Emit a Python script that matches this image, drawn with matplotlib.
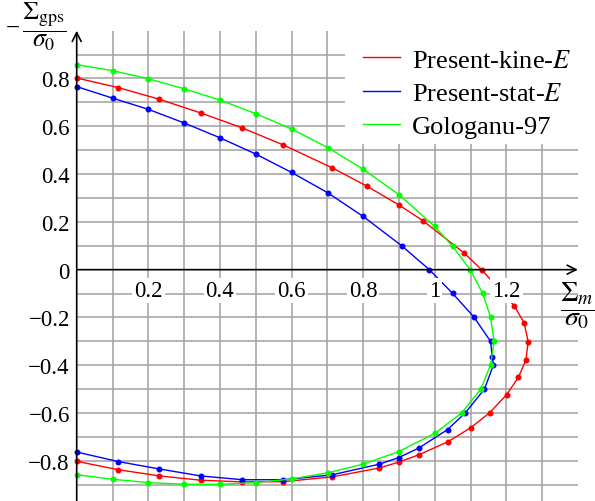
import matplotlib
matplotlib.use("Agg")
import matplotlib.pyplot as plt
from matplotlib.lines import Line2D
from matplotlib.patches import Rectangle
import numpy as np

plt.rcParams['font.family'] = ['Liberation Serif', 'DejaVu Serif']
plt.rcParams['mathtext.fontset'] = 'stix'

# Present-kine-E
kine_x = [0, 0.116, 0.231, 0.346, 0.463, 0.577, 0.714, 0.810, 0.900, 0.967, 1.082, 1.131,
          1.222, 1.250, 1.261, 1.255, 1.234, 1.201, 1.154, 1.101, 1.037, 0.955, 0.900, 0.845,
          0.714, 0.577, 0.463, 0.346, 0.231, 0.116, 0]
kine_y = [0.802, 0.762, 0.713, 0.656, 0.593, 0.522, 0.426, 0.350, 0.271, 0.205, 0.070, 0.0,
          -0.151, -0.223, -0.301, -0.377, -0.450, -0.523, -0.598, -0.661, -0.720, -0.775, -0.805, -0.830,
          -0.867, -0.887, -0.888, -0.881, -0.863, -0.837, -0.802]

# Present-stat-E
stat_x = [0, 0.1, 0.2, 0.3, 0.4, 0.5, 0.6, 0.701, 0.8, 0.908, 0.985, 1.050, 1.110, 1.156,
          1.161, 1.164, 1.139, 1.085, 1.036, 0.956, 0.900, 0.845, 0.712, 0.577, 0.463, 0.346,
          0.231, 0.116, 0]
stat_y = [0.766, 0.718, 0.671, 0.614, 0.552, 0.484, 0.407, 0.322, 0.223, 0.100, 0.0, -0.099,
          -0.199, -0.300, -0.367, -0.399, -0.500, -0.600, -0.669, -0.746, -0.786, -0.814, -0.859,
          -0.879, -0.879, -0.863, -0.834, -0.803, -0.763]

# Gologanu-97
gol_x = [0, 0.1, 0.2, 0.3, 0.4, 0.5, 0.6, 0.701, 0.8, 0.9, 1.0, 1.050, 1.099, 1.134, 1.156,
         1.166, 1.156, 1.129, 1.075, 1.0, 0.9, 0.8, 0.701, 0.6, 0.5, 0.4, 0.3, 0.2, 0.1, 0]
gol_y = [0.858, 0.833, 0.799, 0.757, 0.710, 0.653, 0.589, 0.511, 0.421, 0.314, 0.181, 0.098,
         0.0, -0.099, -0.199, -0.300, -0.399, -0.499, -0.600, -0.685, -0.761, -0.814, -0.850,
         -0.876, -0.891, -0.898, -0.898, -0.891, -0.877, -0.858]

labels = ['Present-kine-$E$', 'Present-stat-$E$', 'Gologanu-97']
colors = ['#ff0000', '#0000ff', '#00ff00']

xticks = [0.2, 0.4, 0.6, 0.8, 1.0, 1.2]
yticks = [-0.8, -0.6, -0.4, -0.2, 0, 0.2, 0.4, 0.6, 0.8]

xmin, xmax = 0, 1.4
ymin, ymax = -0.968, 1.0

fig = plt.figure(figsize=(5.95, 5.02), dpi=100)
ax = fig.add_axes([76.7 / 595, 0, 501.2 / 595, (502 - 31.7) / 502])
ax.set_xlim(xmin, xmax)
ax.set_ylim(ymin, ymax)

# grid every 0.1, drawn under the curves
grid_x = np.round(np.arange(0.1, 1.35, 0.1), 2)
grid_y = np.round(np.arange(-0.9, 0.95, 0.1), 2)
grid_y = grid_y[grid_y != 0]
ax.vlines(grid_x, ymin, ymax, color='#a0a0a0', lw=1.1, zorder=1)
ax.hlines(grid_y, xmin, xmax, color='#a0a0a0', lw=1.1, zorder=1)

for xs, ys, c in zip([kine_x, stat_x, gol_x], [kine_y, stat_y, gol_y], colors):
    ax.plot(xs, ys, color=c, lw=1.0, marker='o', ms=3.3, zorder=2, clip_on=False)

# axes with arrows
for sp in ax.spines.values():
    sp.set_visible(False)
ax.annotate('', xy=(xmax, 0), xytext=(0, 0),
            arrowprops=dict(arrowstyle='->', lw=1.2, color='black', shrinkA=0, shrinkB=0,
                            mutation_scale=16), annotation_clip=False, zorder=3)
ax.annotate('', xy=(0, ymax), xytext=(0, ymin),
            arrowprops=dict(arrowstyle='->', lw=1.2, color='black', shrinkA=0, shrinkB=0,
                            mutation_scale=16), annotation_clip=False, zorder=3)

# x tick labels sit just below the x axis, on white boxes
ax.set_xticks([])
for v in xticks:
    ax.text(v, -0.088, f'{v:g}', ha='center', va='center', fontsize=16.5, zorder=4,
            bbox=dict(facecolor='white', edgecolor='none', pad=1.5))

ax.set_yticks(yticks)
ax.set_yticklabels([f'{v:g}'.replace('-', '\u2212') for v in yticks])
ax.tick_params(axis='y', length=0, pad=5, labelsize=16.5)

# white panel behind the legend
ax.add_patch(Rectangle((0.535, 0.759), 0.465, 0.241, transform=ax.transAxes,
                       facecolor='white', edgecolor='none', zorder=4.5))
handles = [Line2D([], [], color=c, lw=1.0) for c in colors]
leg = ax.legend(handles, labels, loc='upper left', bbox_to_anchor=(0.571, 0.963),
                borderaxespad=0, borderpad=0, fontsize=19, handlelength=1.4,
                handletextpad=0.45, labelspacing=0.37, frameon=False)
leg.set_zorder(5)

# axis titles as fractions
fig.text(13 / 595, 1 - 29 / 502, '\u2212', fontsize=18, ha='center', va='center')
fig.text(44 / 595, 1 - 27 / 502, r'$\dfrac{\Sigma_{\mathrm{gps}}}{\sigma_0}$', fontsize=18.5,
         ha='center', va='center')
fig.text(577 / 595, 1 - 306 / 502, r'$\dfrac{\Sigma_m}{\sigma_0}$', fontsize=20,
         ha='center', va='center')

fig.savefig('out.png', dpi=100)
